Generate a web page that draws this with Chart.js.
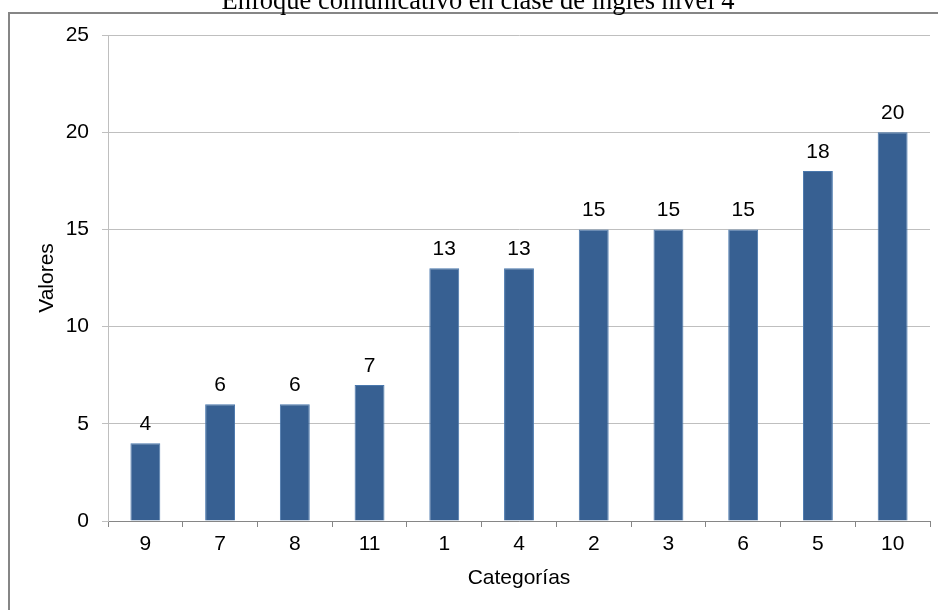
<!DOCTYPE html>
<html>
<head>
<meta charset="utf-8">
<script src="https://cdn.jsdelivr.net/npm/chart.js@4/dist/chart.umd.min.js"></script>
<style>
  html, body { margin: 0; padding: 0; background: #ffffff; }
  canvas { display: block; }
</style>
</head>
<body>
<canvas id="chart" width="938" height="610"></canvas>
<script>
// -------------------------- Data --------------------------
const categories = ['9', '7', '8', '11', '1', '4', '2', '3', '6', '5', '10'];
const values = [4, 6, 6, 7, 13, 13, 15, 15, 15, 18, 20];
const yTicks = [0, 5, 10, 15, 20, 25];

const chartTitle = 'Enfoque comunicativo en clase de inglés nivel 4';
const barColor = '#376092';
const gridColor = '#bfbfbf';
const axisColor = '#868686';
const sans = '"Liberation Sans", Arial, sans-serif';

// -------------------------- Plugins --------------------------

// outer frame + title (title is clipped at top like the original)
const framePlugin = {
  id: 'frame',
  beforeDraw(chart) {
    const c = chart.ctx;
    c.save();
    c.fillStyle = '#ffffff';
    c.fillRect(0, 0, chart.width, chart.height);
    c.strokeStyle = '#868686';
    c.lineWidth = 2;
    c.strokeRect(9, 13, 1000, 1000);
    c.fillStyle = '#000000';
    c.font = '26.5px "Liberation Serif", "Times New Roman", serif';
    c.textAlign = 'center';
    c.textBaseline = 'alphabetic';
    c.fillText(chartTitle, 478, 9);
    c.restore();
  }
};

// value labels above each bar
const valueLabels = {
  id: 'valueLabels',
  afterDatasetsDraw(chart) {
    const c = chart.ctx;
    const meta = chart.getDatasetMeta(0);
    c.save();
    c.fillStyle = '#000000';
    c.font = '21px ' + sans;
    c.textAlign = 'center';
    c.textBaseline = 'alphabetic';
    meta.data.forEach((bar, i) => {
      c.fillText(String(values[i]), bar.x, bar.y - 13);
    });
    c.restore();
  }
};

// -------------------------- Chart --------------------------
const ctx = document.getElementById('chart').getContext('2d');
const chart = new Chart(ctx, {
  type: 'bar',
  data: {
    labels: categories,
    datasets: [{
      label: 'Valores',
      data: values,
      backgroundColor: barColor,
      borderColor: '#4a78ad',
      borderWidth: 1,
      barPercentage: 0.4,
      categoryPercentage: 1.0
    }]
  },
  options: {
    responsive: false,
    animation: false,
    devicePixelRatio: 1,
    layout: { padding: { left: 0, top: 35, right: 8, bottom: 0 } },
    plugins: {
      legend: { display: false },
      title: { display: false },
      tooltip: { enabled: false }
    },
    scales: {
      x: {
        offset: true,
        grid: { offset: true, drawOnChartArea: false, color: axisColor, tickLength: 6 },
        border: { color: axisColor, width: 1 },
        ticks: { color: '#000000', padding: 5, font: { family: sans, size: 21 } },
        title: { display: true, text: 'Categorías', color: '#000000', padding: { top: 0, bottom: 19 },
                 font: { family: sans, size: 21 } },
        afterFit(scale) { scale.height = 89; }
      },
      y: {
        min: 0,
        max: 25,
        afterBuildTicks(scale) { scale.ticks = yTicks.map(v => ({ value: v })); },
        grid: { color: gridColor, tickLength: 6 },
        border: { color: gridColor, width: 1 },
        ticks: { color: '#000000', padding: 13, font: { family: sans, size: 21 } },
        title: { display: true, text: 'Valores', color: '#000000', padding: { top: 35, bottom: 0 },
                 font: { family: sans, size: 21 } },
        afterFit(scale) { scale.width = 108; }
      }
    }
  },
  plugins: [framePlugin, valueLabels]
});
</script>
</body>
</html>
